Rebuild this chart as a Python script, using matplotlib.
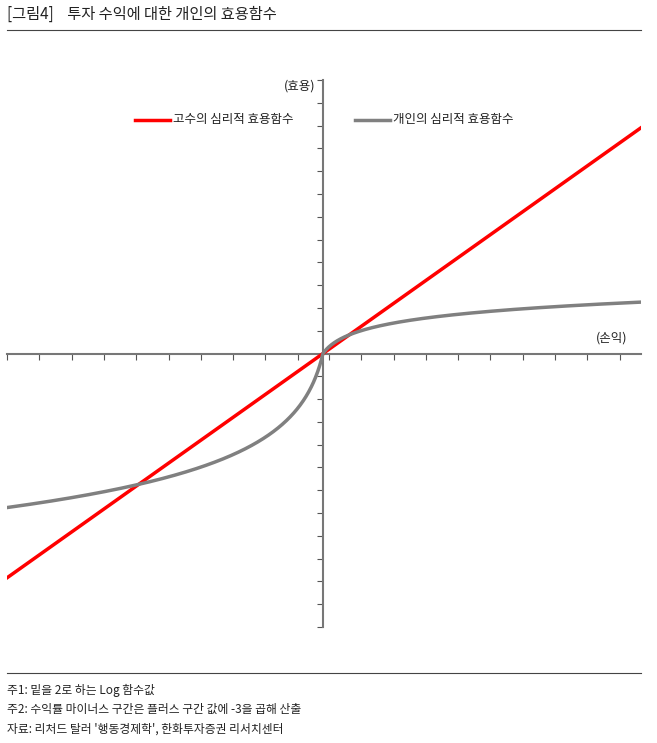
import numpy as np
import matplotlib
matplotlib.use("Agg")
import matplotlib.pyplot as plt
from matplotlib.lines import Line2D

plt.rcParams['font.family'] = ['Noto Sans CJK KR', 'DejaVu Sans']

title = "[그림4]    투자 수익에 대한 개인의 효용함수"
series_names = ["고수의 심리적 효용함수", "개인의 심리적 효용함수"]
notes = ["주1: 밑을 2로 하는 Log 함수값",
         "주2: 수익률 마이너스 구간은 플러스 구간 값에 -3을 곱해 산출",
         "자료: 리처드 탈러 '행동경제학', 한화투자증권 리서치센터"]
loss_multiplier = -3
red_slope = 0.725
x = np.linspace(-29.8, 30, 1201)
red = red_slope * x
gray = np.where(x >= 0, np.log2(1 + np.abs(x)), loss_multiplier * np.log2(1 + np.abs(x)))

W, H = 657, 743
fig = plt.figure(figsize=(W/100, H/100), dpi=100)
fig.text(7/W, 1-14/H, title, fontsize=11, va='center', ha='left', color='#222')
fig.add_artist(Line2D([7/W, 641/W], [1-30/H]*2, color='#444', lw=0.8))
fig.add_artist(Line2D([7/W, 641/W], [1-673/H]*2, color='#444', lw=0.8))
for i, (t, yy) in enumerate(zip(notes, [690, 709, 729])):
    fig.text(7/W, 1-yy/H, t, fontsize=8.5, va='center', ha='left', color='#222')

ax = fig.add_axes([7/W, 1-627/H, 634/W, 547/H])
ax.set_xlim(-29.8, 30)
ax.set_ylim(-26.3, 26.35)
for s in ['top', 'right']:
    ax.spines[s].set_visible(False)
ax.spines['left'].set_position(('data', 0))
ax.spines['bottom'].set_position(('data', 0))
for s in ['left', 'bottom']:
    ax.spines[s].set_color('#777')
    ax.spines[s].set_linewidth(1.5)
xt_step = 30/318*32.3
xticks = list(-29.8 + xt_step*np.arange(10)) + list(30/318*6 + xt_step*np.arange(10))
ax.set_xticks(xticks)
ax.set_yticks(2.195*np.arange(-12, 13))
ax.tick_params(axis='x', direction='out', length=4, color='#555', labelbottom=False)
ax.tick_params(axis='y', direction='out', length=4, color='#555', labelleft=False)

ax.plot(x, red, color='#ff0000', lw=2.5, label=series_names[0], zorder=3)
ax.plot(x, gray, color='#808080', lw=2.5, label=series_names[1], zorder=4)

fig.text(315/W, 1-86/H, "(효용)", fontsize=9, ha='right', va='center', color='#222')
fig.text(627/W, 1-338/H, "(손익)", fontsize=9, ha='right', va='center', color='#222')
fig.add_artist(Line2D([135/W, 170/W], [1-120/H]*2, color='#ff0000', lw=2.5))
fig.text(173/W, 1-120/H, series_names[0], fontsize=9, va='center', color='#222')
fig.add_artist(Line2D([355/W, 390/W], [1-120/H]*2, color='#808080', lw=2.5))
fig.text(393/W, 1-120/H, series_names[1], fontsize=9, va='center', color='#222')

fig.savefig("out.png", dpi=100)
